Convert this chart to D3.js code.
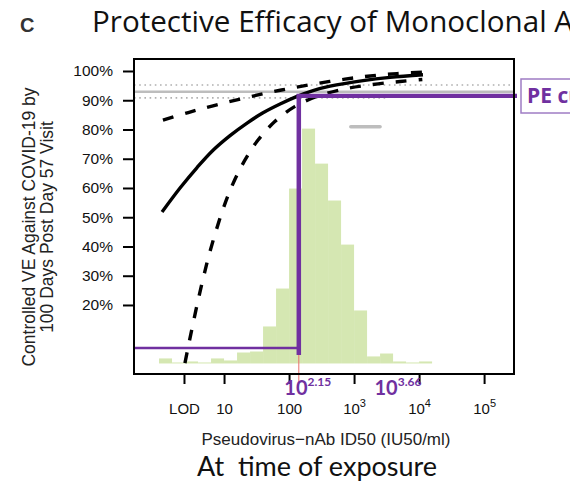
<!DOCTYPE html>
<html>
<head>
<meta charset="utf-8">
<script src="https://cdn.jsdelivr.net/npm/d3@7"></script>
<style>
  body { margin: 0; background: #fff; }
  svg { display: block; }
</style>
</head>
<body>
<svg id="chart" width="570" height="482"></svg>
<script>
// Controlled VE curve and 95% bands: [log10 ID50, VE]
const veCurve = [
  [0.046, 0.518], [0.323, 0.600], [0.585, 0.670], [0.831, 0.729], [1.092, 0.779],
  [1.354, 0.822], [1.600, 0.857], [1.862, 0.887], [2.123, 0.913], [2.369, 0.933],
  [2.631, 0.948], [3.138, 0.967], [3.554, 0.978], [4.060, 0.987]
];
const veUpper = [
  [0.06, 0.832], [0.45, 0.858], [0.83, 0.881], [1.25, 0.904], [1.66, 0.925],
  [2.05, 0.942], [2.45, 0.958], [2.86, 0.972], [3.25, 0.983], [3.66, 0.991], [4.06, 0.996]
];
const veLower = [
  [0.33, -0.076], [0.43, 0.036], [0.52, 0.133], [0.615, 0.230], [0.69, 0.301],
  [0.785, 0.384], [0.985, 0.528], [1.138, 0.615], [1.323, 0.696], [1.523, 0.764],
  [1.785, 0.828], [2.092, 0.879], [2.43, 0.913], [2.86, 0.939], [3.29, 0.954],
  [3.71, 0.964], [4.05, 0.971]
];

// Distribution of ID50 at exposure: bin left edges (log10) and percent of participants
const histEdges = [0.0, 0.2, 0.4, 0.6, 0.8, 1.0, 1.2, 1.4, 1.6, 1.8, 2.0,
                   2.2, 2.4, 2.6, 2.8, 3.0, 3.2, 3.4, 3.6, 3.8, 4.0];
const histPct = [0.45, 0.09, 0.18, 0.09, 0.45, 0.27, 0.98, 1.07, 3.31, 6.70, 15.64,
                 21.00, 17.87, 14.57, 10.63, 4.74, 0.63, 0.89, 0.18, 0.09, 0.18];
const histBinWidth = 0.2;

// Overall VE with its confidence limits
const overallVE = 0.929;
const overallLower = 0.908;
const overallUpper = 0.952;
const overallLowerEnd = 3.48;
// Placebo reference segment
const refSegment = { from: 2.95, to: 3.40, ve: 0.809 };

// Protective efficacy threshold
const peLog = 2.15;
const peVE = 0.915;
const lowVE = 0.053;
const peFloorVE = 0.029;
const peLabels = [
  { exp: "2.15", at: 2.15, shift: 9 },
  { exp: "3.66", at: 3.66, shift: 1 }
];

// Axis ticks
const lodValue = 2.42;
const xTickValues = [Math.log10(lodValue), 1, 2, 3, 4, 5];
const xTickLabels = [["LOD", ""], ["10", ""], ["100", ""], ["10", "3"], ["10", "4"], ["10", "5"]];
const yTickValues = [0.2, 0.3, 0.4, 0.5, 0.6, 0.7, 0.8, 0.9, 1.0];

const svg = d3.select("#chart");
const plot = { left: 134, right: 514, top: 59, bottom: 374 };

const x = d3.scaleLinear().domain([-0.385, 5.46]).range([plot.left, plot.right]);
const y = d3.scaleLinear().domain([-0.036, 1.041]).range([plot.bottom, plot.top]);
const hScale = d3.scaleLinear().domain([0, d3.max(histPct)]).range([y(0), y(0.803)]);

const purple = "#7030a0";
const axisFont = "'Liberation Sans', Arial, sans-serif";
const titleFont = "'Open Sans', Lato, sans-serif";
const captionFont = "Lato, 'Open Sans', sans-serif";

svg.append("defs").append("clipPath").attr("id", "plotClip")
  .append("rect")
  .attr("x", plot.left).attr("y", plot.top)
  .attr("width", plot.right - plot.left).attr("height", plot.bottom - plot.top);

// Panel letter and title
svg.append("text").attr("x", 20).attr("y", 32)
  .attr("font-family", axisFont).attr("font-weight", "bold").attr("font-size", 20)
  .attr("fill", "#333").text("C");
svg.append("text").attr("x", 92).attr("y", 32)
  .attr("font-family", titleFont).attr("font-size", 29.6).attr("fill", "#111")
  .text("Protective Efficacy of Monoclonal Antibodies");

const g = svg.append("g").attr("clip-path", "url(#plotClip)");

// Histogram
g.selectAll("rect.bin").data(histPct).join("rect")
  .attr("class", "bin")
  .attr("x", (d, i) => x(histEdges[i]))
  .attr("width", (d, i) => x(histEdges[i] + histBinWidth) - x(histEdges[i]))
  .attr("y", d => hScale(d))
  .attr("height", d => hScale(0) - hScale(d))
  .attr("fill", "#d5e7b2");

// Overall VE reference lines
g.append("line")
  .attr("x1", plot.left).attr("x2", plot.right)
  .attr("y1", y(overallVE)).attr("y2", y(overallVE))
  .attr("stroke", "#bdbdbd").attr("stroke-width", 2.5);
g.append("line")
  .attr("x1", plot.left).attr("x2", plot.right)
  .attr("y1", y(overallUpper)).attr("y2", y(overallUpper))
  .attr("stroke", "#b0b0b0").attr("stroke-width", 1.6).attr("stroke-dasharray", "1.6,3.6");
g.append("line")
  .attr("x1", plot.left).attr("x2", x(overallLowerEnd))
  .attr("y1", y(overallLower)).attr("y2", y(overallLower))
  .attr("stroke", "#b0b0b0").attr("stroke-width", 1.6).attr("stroke-dasharray", "1.6,3.6");

g.append("line")
  .attr("x1", x(refSegment.from)).attr("x2", x(refSegment.to))
  .attr("y1", y(refSegment.ve)).attr("y2", y(refSegment.ve))
  .attr("stroke", "#bdbdbd").attr("stroke-width", 3.5).attr("stroke-linecap", "round");

// VE curves
const line = d3.line().x(d => x(d[0])).y(d => y(d[1])).curve(d3.curveCatmullRom.alpha(0.5));
g.append("path").datum(veCurve).attr("d", line)
  .attr("fill", "none").attr("stroke", "#000").attr("stroke-width", 3.4);
[veUpper, veLower].forEach(band => {
  g.append("path").datum(band).attr("d", line)
    .attr("fill", "none").attr("stroke", "#000").attr("stroke-width", 3.4)
    .attr("stroke-dasharray", "11,12");
});

// Protective efficacy threshold marks
g.append("line")
  .attr("x1", plot.left).attr("x2", x(peLog))
  .attr("y1", y(lowVE)).attr("y2", y(lowVE))
  .attr("stroke", purple).attr("stroke-width", 2.6);
svg.append("line")
  .attr("x1", x(peLog)).attr("x2", x(peLog))
  .attr("y1", y(peVE)).attr("y2", y(peFloorVE))
  .attr("stroke", purple).attr("stroke-width", 4.5);
svg.append("line")
  .attr("x1", x(peLog) - 2.25).attr("x2", plot.right + 3)
  .attr("y1", y(peVE)).attr("y2", y(peVE))
  .attr("stroke", purple).attr("stroke-width", 4.3);
svg.append("line")
  .attr("x1", x(peLog)).attr("x2", x(peLog))
  .attr("y1", y(peFloorVE)).attr("y2", 382)
  .attr("stroke", "#e8716d").attr("stroke-width", 1);

// Plot frame
svg.append("rect")
  .attr("x", plot.left).attr("y", plot.top)
  .attr("width", plot.right - plot.left).attr("height", plot.bottom - plot.top)
  .attr("fill", "none").attr("stroke", "#000").attr("stroke-width", 2);

// Y axis
const yAxis = svg.append("g").attr("transform", `translate(${plot.left},0)`)
  .call(d3.axisLeft(y).tickValues(yTickValues).tickSize(11).tickPadding(10)
    .tickFormat(d3.format(".0%")));
yAxis.select(".domain").remove();
yAxis.selectAll(".tick line").attr("stroke", "#000").attr("stroke-width", 2);
yAxis.selectAll(".tick text").attr("font-family", axisFont).attr("font-size", 15.5)
  .attr("fill", "#111");

// X axis
const xAxis = svg.append("g").attr("transform", `translate(0,${plot.bottom})`)
  .call(d3.axisBottom(x).tickValues(xTickValues).tickSize(10).tickFormat(() => ""));
xAxis.select(".domain").remove();
xAxis.selectAll(".tick line").attr("stroke", "#000").attr("stroke-width", 2);
xAxis.selectAll(".tick").each(function(d, i) {
  const t = d3.select(this).append("text")
    .attr("y", 40).attr("text-anchor", "middle")
    .attr("font-family", axisFont).attr("font-size", 15).attr("fill", "#111");
  t.append("tspan").text(xTickLabels[i][0]);
  if (xTickLabels[i][1]) {
    t.append("tspan").attr("dy", -7).attr("font-size", 11).text(xTickLabels[i][1]);
  }
});

// Threshold value labels
peLabels.forEach(p => {
  const t = svg.append("text")
    .attr("x", x(p.at) + p.shift).attr("y", 395).attr("text-anchor", "middle")
    .attr("font-family", captionFont).attr("font-weight", "bold").attr("font-size", 20)
    .attr("fill", purple);
  t.append("tspan").text("10");
  t.append("tspan").attr("dy", -9).attr("font-size", 12).text(p.exp);
});

// PE label box
svg.append("rect").attr("x", 521).attr("y", 79).attr("width", 120).attr("height", 34)
  .attr("fill", "#fff").attr("stroke", "#9f7cc4").attr("stroke-width", 1.5);
svg.append("text").attr("x", 527).attr("y", 103)
  .attr("font-family", titleFont).attr("font-weight", "bold").attr("font-size", 21)
  .attr("fill", purple).text("PE curve");

// Axis titles
svg.append("text").attr("x", 326).attr("y", 445).attr("text-anchor", "middle")
  .attr("font-family", axisFont).attr("font-size", 17).attr("fill", "#222")
  .text("Pseudovirus\u2212nAb ID50 (IU50/ml)");
const yTitle = svg.append("text")
  .attr("transform", "translate(35,227) rotate(-90)").attr("text-anchor", "middle")
  .attr("font-family", axisFont).attr("font-size", 17.5).attr("fill", "#222");
yTitle.append("tspan").attr("x", 0).attr("y", 0).text("Controlled VE Against COVID-19 by");
yTitle.append("tspan").attr("x", 0).attr("y", 18).text("100 Days Post Day 57 Visit");

svg.append("text").attr("x", 197).attr("y", 476)
  .attr("font-family", captionFont).attr("font-size", 27).attr("fill", "#111")
  .style("white-space", "pre")
  .text("At  time of exposure");
</script>
</body>
</html>
